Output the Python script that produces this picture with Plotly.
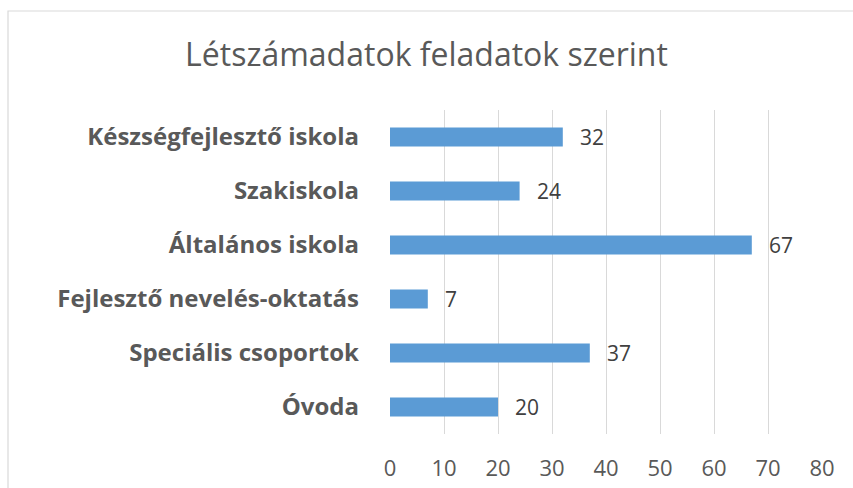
import plotly.graph_objects as go

categories = ["Óvoda", "Speciális csoportok", "Fejlesztő nevelés-oktatás",
              "Általános iskola", "Szakiskola", "Készségfejlesztő iskola"]
values = [20, 37, 7, 67, 24, 32]
x_ticks = [0, 10, 20, 30, 40, 50, 60, 70, 80]
title_text = "Létszámadatok feladatok szerint"

W, H = 853, 488
L, R, T, B = 390, 31, 110, 54
pw, ph = W - L - R, H - T - B
FONT = "Open Sans"

fig = go.Figure(go.Bar(
    x=values, y=categories, orientation="h",
    marker=dict(color="#5B9BD5", line=dict(width=0)),
    width=0.35, hoverinfo="skip",
))

for v, c in zip(values, categories):
    fig.add_annotation(x=v, y=c, text=str(v), showarrow=False,
                       xanchor="left", xshift=15,
                       font=dict(family=FONT, size=21, color="#404040"))

fig.add_shape(type="rect", xref="paper", yref="paper",
              x0=(8 - L) / pw, x1=(W + 10 - L) / pw,
              y0=-(H + 10 - (T + ph)) / ph, y1=1 + (T - 11) / ph,
              line=dict(color="#D9D9D9", width=1.2), fillcolor="rgba(0,0,0,0)",
              layer="below")

fig.update_layout(
    width=W, height=H,
    margin=dict(l=L, r=R, t=T, b=B),
    paper_bgcolor="white", plot_bgcolor="white",
    showlegend=False,
    title=dict(text=title_text, x=0.5, xref="container", xanchor="center",
               y=1 - 55 / H, yanchor="middle",
               font=dict(family=FONT, size=32, color="#595959")),
    xaxis=dict(range=[0, 80], tickvals=x_ticks, showgrid=True,
               gridcolor="#D9D9D9", gridwidth=1.2, zeroline=False,
               showline=False, ticks="", ticklabelstandoff=19,
               automargin=False,
               tickfont=dict(family=FONT, size=22, color="#595959"),
               fixedrange=True),
    yaxis=dict(categoryorder="array", categoryarray=categories,
               showgrid=False, zeroline=False, showline=False, ticks="",
               ticklabelstandoff=30, automargin=False,
               tickfont=dict(family=FONT, size=24, color="#595959",
                             weight="bold"),
               fixedrange=True),
)

fig.write_html("out.html", config={"displayModeBar": False},
               post_script="document.body.style.margin='0';")
